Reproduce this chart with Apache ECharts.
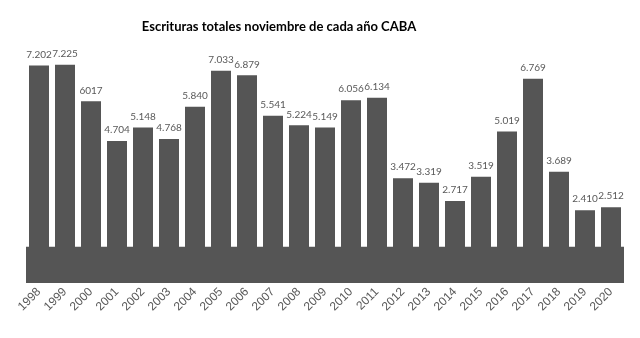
<!DOCTYPE html>
<html>
<head>
<meta charset="utf-8">
<script src="https://cdn.jsdelivr.net/npm/echarts@6/dist/echarts.min.js"></script>
<style>
  html, body { margin: 0; padding: 0; background: #fff; }
  #chart { width: 640px; height: 338px; }
</style>
</head>
<body>
<div id="chart"></div>
<script>
// Escrituras de noviembre por año, Ciudad de Buenos Aires
const years = ['1998','1999','2000','2001','2002','2003','2004','2005','2006','2007','2008','2009',
               '2010','2011','2012','2013','2014','2015','2016','2017','2018','2019','2020'];
const deeds = [7202, 7225, 6017, 4704, 5148, 4768, 5840, 7033, 6879, 5541, 5224, 5149,
               6056, 6134, 3472, 3319, 2717, 3519, 5019, 6769, 3689, 2410, 2512];
const deedLabels = ['7.202','7.225','6017','4.704','5.148','4.768','5.840','7.033','6.879','5.541','5.224','5.149',
                    '6.056','6.134','3.472','3.319','2.717','3.519','5.019','6.769','3.689','2.410','2.512'];
// height of the dark floor band, in axis units
const floorTop = 1200;

const chart = echarts.init(document.getElementById('chart'));
const barColor = '#555555';

chart.setOption({
  animation: false,
  title: {
    text: 'Escrituras totales noviembre de cada año CABA',
    left: 274, textAlign: 'center', top: 15,
    textStyle: { fontFamily: 'Lato', fontWeight: 'bold', fontSize: 13, color: '#000' }
  },
  grid: { left: 26, right: 16, top: 30, bottom: 55 },
  xAxis: {
    type: 'category',
    data: years,
    axisLine: { show: false },
    axisTick: { show: false },
    axisLabel: {
      rotate: 45, margin: 7, color: '#595959',
      fontFamily: 'Liberation Sans', fontSize: 12
    }
  },
  yAxis: {
    type: 'value', min: 0, max: 8380, show: false, splitLine: { show: false }
  },
  series: [{
    type: 'bar',
    data: deeds,
    barWidth: 20,
    itemStyle: { color: barColor },
    label: {
      show: true, position: 'top', distance: 6,
      color: '#595959', fontFamily: 'Lato', fontSize: 10,
      formatter: p => deedLabels[p.dataIndex]
    },
    markArea: {
      silent: true,
      itemStyle: { color: barColor },
      data: [[{ yAxis: 0 }, { yAxis: floorTop }]]
    }
  }]
});
</script>
</body>
</html>
